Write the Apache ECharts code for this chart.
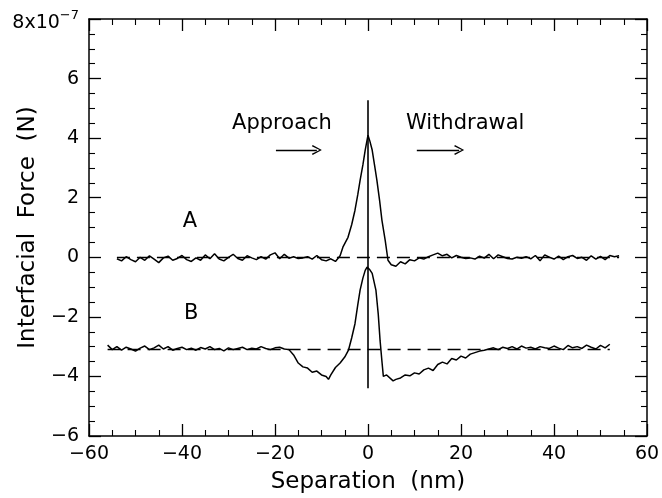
<!DOCTYPE html>
<html><head><meta charset="utf-8">
<script src="https://cdn.jsdelivr.net/npm/echarts@6/dist/echarts.min.js"></script>
<style>html,body{margin:0;padding:0;background:#fff}#c{width:662px;height:498px}</style>
</head><body><div id="c"></div>
<script>
// x ticks (nm), y ticks (x10^-7 N)
const xTicks = [-60, -40, -20, 0, 20, 40, 60];
const yTicks = [-6, -4, -2, 0, 2, 4, 6, 8];

// Curve A: [separation nm, force x10^-7 N]
const curveA = [
[-54,-0.05],[-53,-0.12],[-52,0.02],[-51,-0.08],[-50,-0.15],[-49,0.0],[-48,-0.1],[-47,0.05],[-46,-0.06],[-45,-0.18],[-44,-0.02],[-43,0.04],[-42,-0.1],[-41,-0.04],[-40,0.06],[-39,-0.08],[-38,-0.14],[-37,-0.02],[-36,-0.1],[-35,0.08],[-34,-0.05],[-33,0.12],[-32,-0.06],[-31,-0.12],[-30,0.0],[-29,0.1],[-28,-0.04],[-27,-0.1],[-26,0.05],[-25,-0.02],[-24,-0.08],[-23,0.02],[-22,-0.06],[-21,0.08],[-20,0.15],[-19,-0.05],[-18,0.1],[-17,-0.03],[-16,0.02],[-15,-0.04],[-14,-0.02],[-13,0.02],[-12,-0.06],[-11,0.06],[-10,-0.08],[-9,-0.12],[-8,-0.05],[-7,-0.14],
[-6,0.05],[-5.4,0.34],[-4.3,0.67],[-3.5,1.1],[-2.8,1.58],[-2.2,2.1],[-1.7,2.58],[-1.1,3.1],[-0.6,3.6],[0,4.1],[0.4,3.9],[0.9,3.6],[1.4,3.1],[1.9,2.6],[2.5,1.9],[3.0,1.24],[3.7,0.57],[4.3,-0.1],[5,-0.25],[6,-0.3],[7,-0.15],[8,-0.22],
[9,-0.08],[10,-0.12],[11,-0.02],[12,-0.06],[13,0.02],[14,0.08],[15,0.14],[16,0.05],[17,0.1],[18,-0.02],[19,0.06],[20,0.0],[21,-0.04],[22,-0.02],[23,-0.06],[24,0.04],[25,-0.03],[26,0.1],[27,-0.05],[28,0.08],[29,0.02],[30,-0.04],[31,-0.06],[32,0.0],[33,-0.03],[34,0.02],[35,-0.05],[36,0.06],[37,-0.12],[38,0.08],[39,0.0],[40,-0.06],[41,0.04],[42,-0.08],[43,0.02],[44,0.06],[45,-0.04],[46,0.0],[47,-0.1],[48,0.05],[49,-0.06],[50,0.03],[51,-0.08],[52,0.06],[53,0.02],[54,0.05]
];

// Curve B
const curveB = [
[-56,-2.95],[-55,-3.1],[-54,-3.0],[-53,-3.12],[-52,-3.02],[-51,-3.08],[-50,-3.15],[-49,-3.05],[-48,-2.98],[-47,-3.1],[-46,-3.04],[-45,-2.95],[-44,-3.08],[-43,-3.0],[-42,-3.12],[-41,-3.06],[-40,-3.02],[-39,-3.1],[-38,-3.05],[-37,-3.12],[-36,-3.03],[-35,-3.08],[-34,-3.0],[-33,-3.1],[-32,-3.06],[-31,-3.14],[-30,-3.04],[-29,-3.1],[-28,-3.06],[-27,-3.02],[-26,-3.1],[-25,-3.05],[-24,-3.08],[-23,-3.0],[-22,-3.06],[-21,-3.1],[-20,-3.04],[-19,-3.02],[-18,-3.08],
[-17,-3.1],[-16,-3.28],[-15,-3.55],[-14,-3.68],[-13,-3.72],[-12,-3.86],[-11,-3.82],[-10,-3.95],[-9,-4.0],[-8.5,-4.1],[-8,-3.95],[-7,-3.7],[-6,-3.55],[-5,-3.35],[-4.2,-3.12],[-3.5,-2.7],[-2.8,-2.23],[-2.2,-1.6],[-1.7,-1.1],[-1.1,-0.7],[-0.6,-0.44],[-0.2,-0.33],[0.4,-0.42],[0.9,-0.54],[1.7,-1.1],[2.2,-1.9],[2.6,-2.8],[3.0,-3.5],[3.3,-4.0],[4.0,-3.95],[5.4,-4.15],
[6,-4.1],[7,-4.05],[8,-3.95],[9,-3.98],[10,-3.88],[11,-3.92],[12,-3.78],[13,-3.72],[14,-3.8],[15,-3.6],[16,-3.52],[17,-3.58],[18,-3.4],[19,-3.45],[20,-3.32],[21,-3.38],[22,-3.25],[23,-3.2],[24,-3.15],[25,-3.12],
[26,-3.08],[27,-3.04],[28,-3.1],[29,-3.02],[30,-3.06],[31,-3.0],[32,-3.08],[33,-2.98],[34,-3.05],[35,-3.02],[36,-3.08],[37,-3.0],[38,-3.04],[39,-3.06],[40,-2.98],[41,-3.05],[42,-3.1],[43,-2.96],[44,-3.04],[45,-3.0],[46,-3.06],[47,-2.95],[48,-3.02],[49,-3.08],[50,-2.96],[51,-3.04],[52,-2.92]
];

// reference levels and contact line
const baselineA = 0;
const baselineB = -3.08;
const contactLine = [[0, 5.27], [0, -4.4]];

// annotations (data coordinates)
const notes = [
  {text: 'Approach', at: [-18.5, 4.5]},
  {text: 'Withdrawal', at: [20.9, 4.5]},
  {text: 'A', at: [-38.3, 1.2]},
  {text: 'B', at: [-38.0, -1.9]}
];
const arrows = [
  [[-19.8, 3.6], [-11.0, 3.6]],
  [[10.5, 3.6], [19.6, 3.6]]
];

const FONT = 'DejaVu Sans';
const minus = v => String(v).replace('-', '\u2212');
const axisCommon = {
  type: 'value', min: -60, max: 60, interval: 20,
  axisLine: {show: true, onZero: false, lineStyle: {color: '#000', width: 1.5}},
  axisTick: {show: true, inside: true, length: 12, lineStyle: {color: '#000', width: 1.3}},
  minorTick: {show: true, splitNumber: 4, length: 6, lineStyle: {color: '#000', width: 1.1}},
  splitLine: {show: false}
};
const yCommon = {
  type: 'value', min: -6, max: 8, interval: 2,
  axisLine: {show: true, onZero: false, lineStyle: {color: '#000', width: 1.5}},
  axisTick: {show: true, inside: true, length: 12, lineStyle: {color: '#000', width: 1.3}},
  minorTick: {show: true, splitNumber: 4, length: 6, lineStyle: {color: '#000', width: 1.1}},
  splitLine: {show: false}
};

const chart = echarts.init(document.getElementById('c'), null, {renderer: 'canvas'});
chart.setOption({
  backgroundColor: '#fff',
  animation: false,
  grid: {left: 89, right: 15, top: 19, bottom: 62, containLabel: false, outerBoundsMode: 'none'},
  xAxis: [
    Object.assign({}, axisCommon, {
      position: 'bottom',
      name: 'Separation  (nm)', nameLocation: 'middle', nameGap: 35, nameMoveOverlap: false,
      nameTextStyle: {fontFamily: FONT, fontSize: 23, color: '#000'},
      axisLabel: {show: true, margin: 9, fontFamily: FONT, fontSize: 19, color: '#000',
        customValues: xTicks, formatter: v => minus(v)}
    }),
    Object.assign({}, axisCommon, {position: 'top', axisLabel: {show: false}})
  ],
  yAxis: [
    Object.assign({}, yCommon, {
      position: 'left',
      name: 'Interfacial  Force  (N)', nameLocation: 'middle', nameGap: 49, nameMoveOverlap: false,
      nameTextStyle: {fontFamily: FONT, fontSize: 23, color: '#000'},
      axisLabel: {show: true, margin: 10, fontFamily: FONT, fontSize: 19, color: '#000',
        customValues: yTicks,
        formatter: v => v === 8 ? '{b|8x10}{s|\u22127}' : minus(v),
        rich: {
          b: {fontFamily: FONT, fontSize: 19, color: '#000', padding: [8, 0, 0, 0]},
          s: {fontFamily: FONT, fontSize: 13, color: '#000', padding: [0, 0, 6, 0]}
        }}
    }),
    Object.assign({}, yCommon, {position: 'right', axisLabel: {show: false}})
  ],
  series: [
    {
      type: 'line', data: [], silent: true,
      markLine: {
        silent: true, symbol: ['none', 'none'], animation: false,
        label: {show: false},
        lineStyle: {color: '#000', width: 1.3, type: [13, 7]},
        data: [
          [{coord: [-54, baselineA]}, {coord: [54, baselineA]}],
          [{coord: [-56, baselineB]}, {coord: [52, baselineB]}],
          [{coord: contactLine[0], lineStyle: {type: 'solid', width: 1.6}}, {coord: contactLine[1]}]
        ]
      }
    },
    {
      type: 'line', data: [], silent: true,
      markLine: {
        silent: true, animation: false,
        symbol: ['none', 'path://M5,0 L10,10 L8.8,10.9 L5,2.6 L1.2,10.9 L0,10 Z'],
        symbolSize: [10, 10],
        label: {show: false},
        lineStyle: {color: '#000', width: 1.3, type: 'solid'},
        data: arrows.map(a => [{coord: a[0]}, {coord: a[1]}])
      }
    },
    {
      type: 'line', name: 'A', data: curveA, showSymbol: false, symbol: 'none',
      lineStyle: {color: '#000', width: 1.5}, z: 3
    },
    {
      type: 'line', name: 'B', data: curveB, showSymbol: false, symbol: 'none',
      lineStyle: {color: '#000', width: 1.5}, z: 3
    },
    {
      type: 'scatter', symbolSize: 0, silent: true,
      itemStyle: {color: '#000', opacity: 1},
      data: notes.map(n => ({value: n.at, name: n.text})),
      label: {show: true, position: [0, 0], align: 'center', verticalAlign: 'middle', opacity: 1,
        formatter: p => p.name, fontFamily: FONT, fontSize: 21, color: '#000'}
    }
  ]
});
</script></body></html>
